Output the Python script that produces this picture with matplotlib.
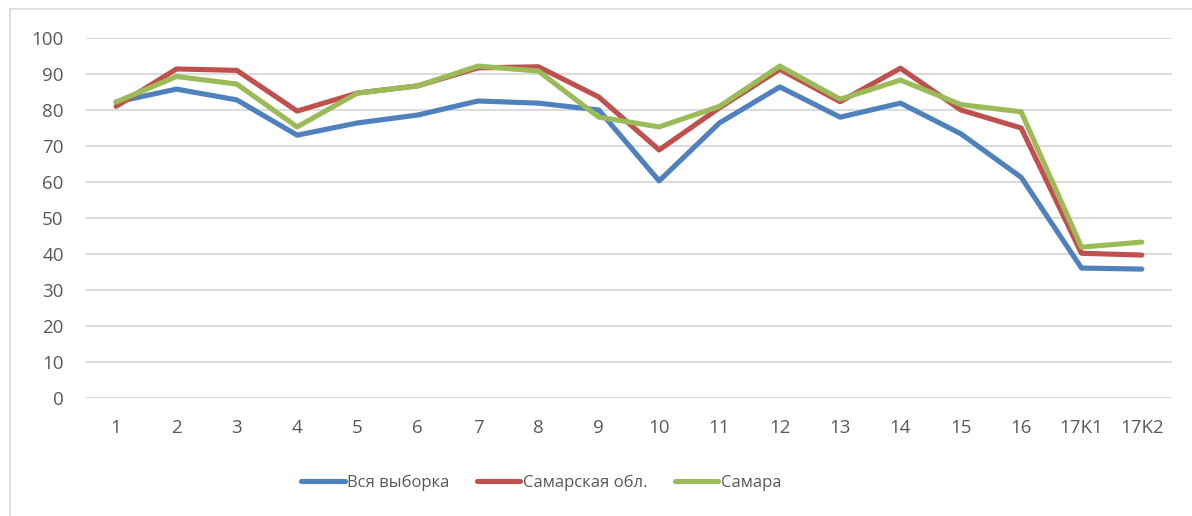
import matplotlib
matplotlib.use("Agg")
import matplotlib.pyplot as plt
from matplotlib.patches import Rectangle

plt.rcParams['font.family'] = ['Open Sans', 'DejaVu Sans']

# -----------------------------
# Data
# -----------------------------

categories = ["1", "2", "3", "4", "5", "6", "7", "8", "9", "10",
              "11", "12", "13", "14", "15", "16", "17K1", "17K2"]

vsya = [82.2, 85.8, 82.8, 73.0, 76.4, 78.6, 82.5, 81.9, 80.0, 60.3,
        76.4, 86.4, 78.0, 81.9, 73.4, 61.3, 36.1, 35.8]

obl = [81.0, 91.4, 91.0, 79.7, 84.7, 86.7, 91.7, 92.0, 83.6, 68.9,
       80.6, 91.3, 82.3, 91.6, 80.0, 75.0, 40.2, 39.7]

samara = [82.2, 89.3, 87.2, 75.3, 84.7, 86.7, 92.2, 90.8, 78.0, 75.3,
          81.0, 92.2, 83.0, 88.3, 81.5, 79.5, 41.9, 43.3]

series_names = ["Вся выборка", "Самарская обл.", "Самара"]
colors = ["#4f81bd", "#c0504d", "#9bbb59"]

# -----------------------------
# Chart
# -----------------------------

fig = plt.figure(figsize=(11.92, 5.16), dpi=100)
ax = fig.add_axes([0.0721, 0.2287, 0.9111, 0.6977])

x = range(len(categories))
for vals, name, c in zip([vsya, obl, samara], series_names, colors):
    ax.plot(x, vals, color=c, lw=3.7, label=name,
            solid_joinstyle="round", solid_capstyle="round")

ax.set_xlim(-0.5, len(categories) - 0.5)
ax.set_ylim(0, 100)
ax.set_yticks(range(0, 101, 10))
ax.set_xticks(list(x))
ax.set_xticklabels(categories)

ax.grid(axis="y", color="#d9d9d9", lw=1.3)
ax.set_axisbelow(True)
for s in ax.spines.values():
    s.set_visible(False)
ax.tick_params(axis="both", length=0, labelsize=13.5, labelcolor="#595959")
ax.tick_params(axis="y", pad=16)
ax.tick_params(axis="x", pad=15)

fig.legend(loc="center", bbox_to_anchor=(0.454, 0.064), ncol=3,
           frameon=False, fontsize=12, handlelength=2.6, handletextpad=0.15,
           columnspacing=1.65, labelcolor="#595959")

# chart area border
fig.patches.append(Rectangle((10 / 1192, -0.1), 1.2, 1.1 - 9 / 516,
                             transform=fig.transFigure, fill=False,
                             edgecolor="#d9d9d9", lw=1.2))

plt.savefig("out.png", dpi=100)
plt.close()
